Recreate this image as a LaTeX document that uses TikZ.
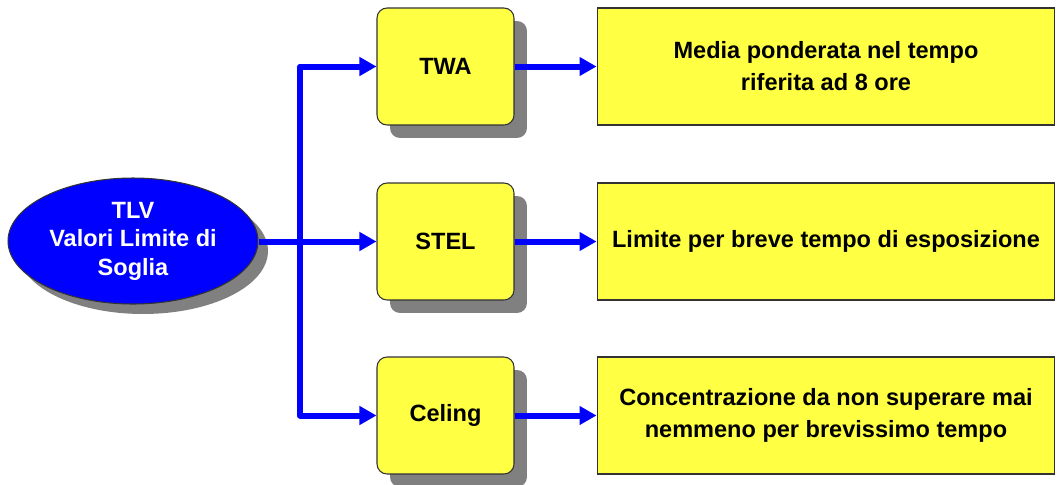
\documentclass[tikz,border=0pt]{standalone}
\usepackage{fontspec}
\setmainfont{Liberation Sans}
\usetikzlibrary{arrows.meta,positioning,shapes.geometric,shadows}
\definecolor{pureblue}{HTML}{0000FF}
\definecolor{lemon}{HTML}{FFFF44}
\definecolor{shade}{HTML}{808080}
\tikzset{
  base/.style={draw=black!80, line width=0.6pt, align=center, font=\fontsize{13.4}{18.2}\selectfont\bfseries},
  root/.style={base, ellipse, fill=pureblue, text=white, minimum width=5cm, minimum height=2.52cm,
    font=\fontsize{13.4}{16.2}\selectfont\bfseries, inner sep=1pt,
    drop shadow={shadow xshift=0.2cm, shadow yshift=-0.2cm, fill=shade, opacity=1}},
  term/.style={base, fill=lemon, rounded corners=0.2cm, minimum width=2.74cm, minimum height=2.34cm,
    drop shadow={shadow xshift=0.26cm, shadow yshift=-0.26cm, fill=shade, opacity=1}},
  meaning/.style={base, fill=lemon, minimum width=9.16cm, minimum height=2.34cm},
  flow/.style={-{Triangle[length=0.34cm, width=0.36cm]}, pureblue, line width=0.12cm, line join=round},
}

\begin{document}
\begin{tikzpicture}[x=0.02cm, y=-0.02cm]
  \useasboundingbox (0,0) rectangle (1058,484);
  \node[root] (tlv) at (133,241) {TLV\\Valori Limite di\\Soglia};
  \node[term] (twa) at (445.5,66.5) {TWA};
  \node[term] (stel) at (445.5,241.5) {STEL};
  \node[term] (ceil) at (445.5,415.5) {Celing};
  \node[meaning] (twad) at (826,66.5) {Media ponderata nel tempo\\riferita ad 8 ore};
  \node[meaning] (steld) at (826,241.5) {Limite per breve tempo di esposizione};
  \node[meaning] (ceild) at (826,415.5) {Concentrazione da non superare mai\\nemmeno per brevissimo tempo};
  \coordinate (hub) at (300,241.5);
  % spine and branches
  \draw[flow] (tlv.east |- hub) -- (stel.west);
  \draw[flow] (hub) |- (twa.west);
  \draw[flow] (hub) |- (ceil.west);
  \draw[flow] (twa.east) -- (twad.west);
  \draw[flow] (stel.east) -- (steld.west);
  \draw[flow] (ceil.east) -- (ceild.west);
\end{tikzpicture}
\end{document}
